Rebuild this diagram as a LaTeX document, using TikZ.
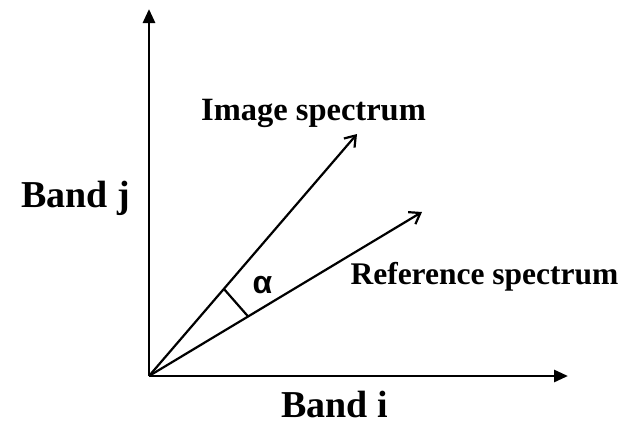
\documentclass[tikz,border=0pt]{standalone}
\usepackage{fontspec}
\setmainfont{Liberation Serif}
\newfontfamily\alphafont{Liberation Sans}
\usetikzlibrary{arrows.meta,calc}
\tikzset{
  axisline/.style={line width=2.8pt, -{Triangle[length=14pt,width=12pt]}},
  vecline/.style={line width=2.2pt, -{Straight Barb[length=10pt,width=14pt,line width=2.2pt]}},
  marker/.style={line width=2.2pt},
  biglabel/.style={font=\fontsize{38}{40}\selectfont\bfseries, anchor=base, inner sep=0pt},
  speclabel/.style={font=\fontsize{32.5}{34}\selectfont\bfseries, anchor=base, inner sep=0pt},
}
\begin{document}
\begin{tikzpicture}[x=1pt,y=-1pt]
\useasboundingbox (0,0) rectangle (630,424);
\coordinate (O) at (149,376);
\coordinate (xend) at (568,376);
\coordinate (yend) at (149,9);
\coordinate (img) at (357,134);
\coordinate (ref) at (422,212);
\draw[axisline] (O) -- (xend);
\draw[axisline] (O) -- (yend);
\draw[vecline] (O) -- (img);
\draw[vecline] (O) -- (ref);
\coordinate (m1) at ($(O)!0.36!(img)$);
\coordinate (m2) at ($(O)!0.363!(ref)$);
\draw[marker] (m1) -- (m2);
\node[speclabel] (imgl) at (313.5,120) {Image spectrum};
\node[font=\fontsize{31.5}{34}\selectfont\bfseries, anchor=base, inner sep=0pt] (refl) at (484.5,284) {Reference spectrum};
\node[biglabel] (bj) at (75.5,207) {Band j};
\node[biglabel] (bi) at (334.5,417) {Band i};
\node[font=\fontsize{32}{34}\selectfont\bfseries\alphafont, anchor=base, inner sep=0pt] (al) at (262.5,293) {α};
\end{tikzpicture}
\end{document}
